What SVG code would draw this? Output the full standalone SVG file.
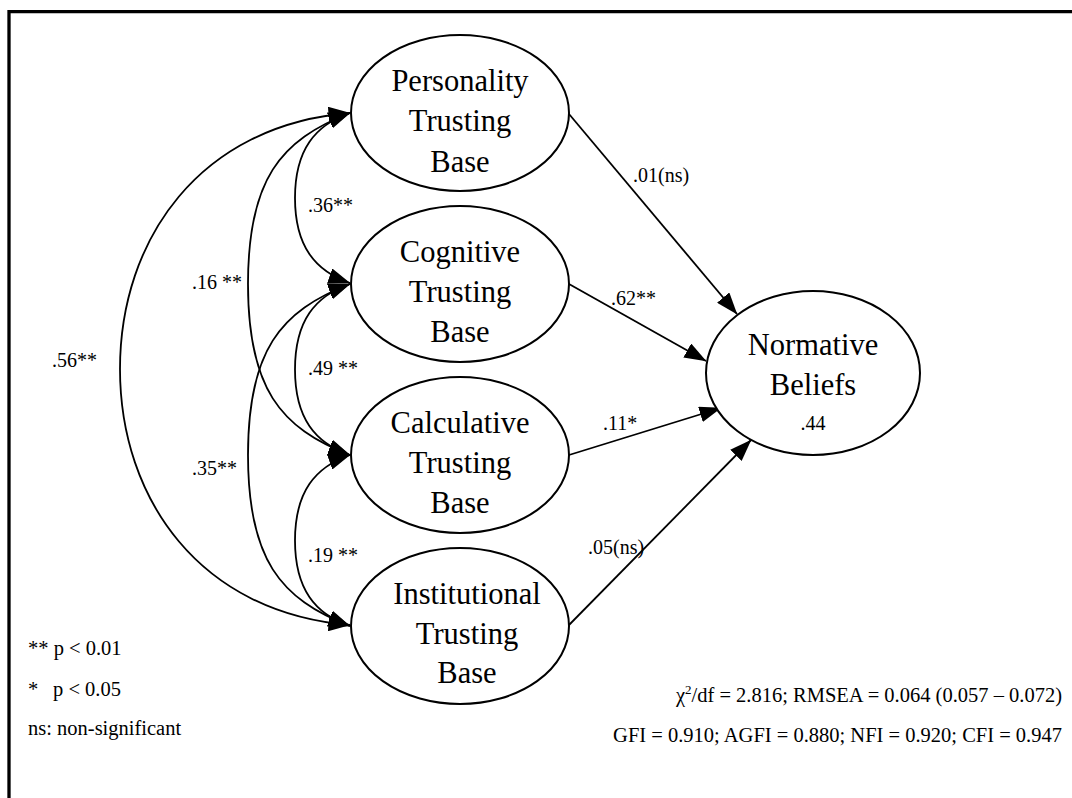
<svg xmlns="http://www.w3.org/2000/svg" width="1072" height="798" viewBox="0 0 1072 798">
<style>
.node{fill:#fff;stroke:#000;stroke-width:2}
.nt{font-family:"Liberation Serif","Times New Roman",serif;font-size:30.5px;fill:#000;text-anchor:middle}
.lb{font-family:"Liberation Serif","Times New Roman",serif;font-size:20px;fill:#000}
.sm{font-family:"Liberation Serif","Times New Roman",serif;font-size:20.5px;fill:#000}
.c{fill:none;stroke:#000;stroke-width:1.8}
</style>
<defs>
<marker id="ah" viewBox="0 0 22 16" refX="21.5" refY="8" markerWidth="22" markerHeight="16" markerUnits="userSpaceOnUse" orient="auto-start-reverse">
<path d="M0,0 L22,8 L0,16 z" fill="#000"/>
</marker>
</defs>
<rect width="1072" height="798" fill="#fff"/>
<path d="M9,805 V11.7 H1080" fill="none" stroke="#000" stroke-width="3.3"/>

<g id="connectors">
<path class="c" d="M350,113 C200,125 120,239 120,369 C120,499 200,613 350,625" marker-start="url(#ah)" marker-end="url(#ah)"/>
<path class="c" d="M350,113 C280,140 248,180 248,284 C248,388 280,428 350,455" marker-start="url(#ah)" marker-end="url(#ah)"/>
<path class="c" d="M350,284 C280,311 248,351 248,455 C248,559 280,599 350,626" marker-start="url(#ah)" marker-end="url(#ah)"/>
<path class="c" d="M350,113 C315,125 295,150 295,198 C295,246 315,271 350,283" marker-start="url(#ah)" marker-end="url(#ah)"/>
<path class="c" d="M350,284 C315,296 295,321 295,369.5 C295,418 315,443 350,455" marker-start="url(#ah)" marker-end="url(#ah)"/>
<path class="c" d="M350,455 C315,467 295,492 295,540.5 C295,589 315,614 350,626" marker-start="url(#ah)" marker-end="url(#ah)"/>
<path class="c" d="M569,114 L737,314" marker-end="url(#ah)"/>
<path class="c" d="M569,284 L706,361" marker-end="url(#ah)"/>
<path class="c" d="M569,455 L721,408" marker-end="url(#ah)"/>
<path class="c" d="M569,625 L751,440" marker-end="url(#ah)"/>
<text class="lb" x="308" y="212">.36**</text>
<text class="lb" x="192" y="289">.16 **</text>
<text class="lb" x="52" y="367">.56**</text>
<text class="lb" x="308" y="375">.49 **</text>
<text class="lb" x="192" y="475">.35**</text>
<text class="lb" x="308" y="562">.19 **</text>
<text class="lb" x="633" y="182">.01(ns)</text>
<text class="lb" x="611" y="305">.62**</text>
<text class="lb" x="603" y="430">.11*</text>
<text class="lb" x="588" y="554">.05(ns)</text>
</g>

<g id="personality">
<ellipse class="node" cx="460" cy="113" rx="109" ry="78"/>
<text class="nt" x="460" y="91">Personality</text>
<text class="nt" x="460" y="131">Trusting</text>
<text class="nt" x="460" y="172">Base</text>
</g>
<g id="cognitive">
<ellipse class="node" cx="460" cy="284" rx="109" ry="78"/>
<text class="nt" x="460" y="262">Cognitive</text>
<text class="nt" x="460" y="302">Trusting</text>
<text class="nt" x="460" y="342">Base</text>
</g>
<g id="calculative">
<ellipse class="node" cx="460" cy="455" rx="109" ry="78"/>
<text class="nt" x="460" y="433">Calculative</text>
<text class="nt" x="460" y="473">Trusting</text>
<text class="nt" x="460" y="513">Base</text>
</g>
<g id="institutional">
<ellipse class="node" cx="460" cy="626" rx="109" ry="78"/>
<text class="nt" x="467" y="604">Institutional</text>
<text class="nt" x="467" y="644">Trusting</text>
<text class="nt" x="467" y="683">Base</text>
</g>
<g id="normative">
<ellipse class="node" cx="813" cy="373" rx="107" ry="82"/>
<text class="nt" x="813" y="355">Normative</text>
<text class="nt" x="813" y="395">Beliefs</text>
<text class="lb" x="813" y="430" text-anchor="middle">.44</text>
</g>

<g id="legend">
<text class="sm" x="28" y="655">** p &lt; 0.01</text>
<text class="sm" x="28" y="696">*<tspan x="53">p &lt; 0.05</tspan></text>
<text class="sm" x="28" y="735">ns: non-significant</text>
</g>
<g id="fit">
<text class="sm" x="1062" y="702" text-anchor="end">χ<tspan font-size="13" dy="-8">2</tspan><tspan dy="8">/df = 2.816; RMSEA = 0.064 (0.057 – 0.072)</tspan></text>
<text class="sm" x="1062" y="742" text-anchor="end">GFI = 0.910; AGFI = 0.880; NFI = 0.920; CFI = 0.947</text>
</g>
</svg>
